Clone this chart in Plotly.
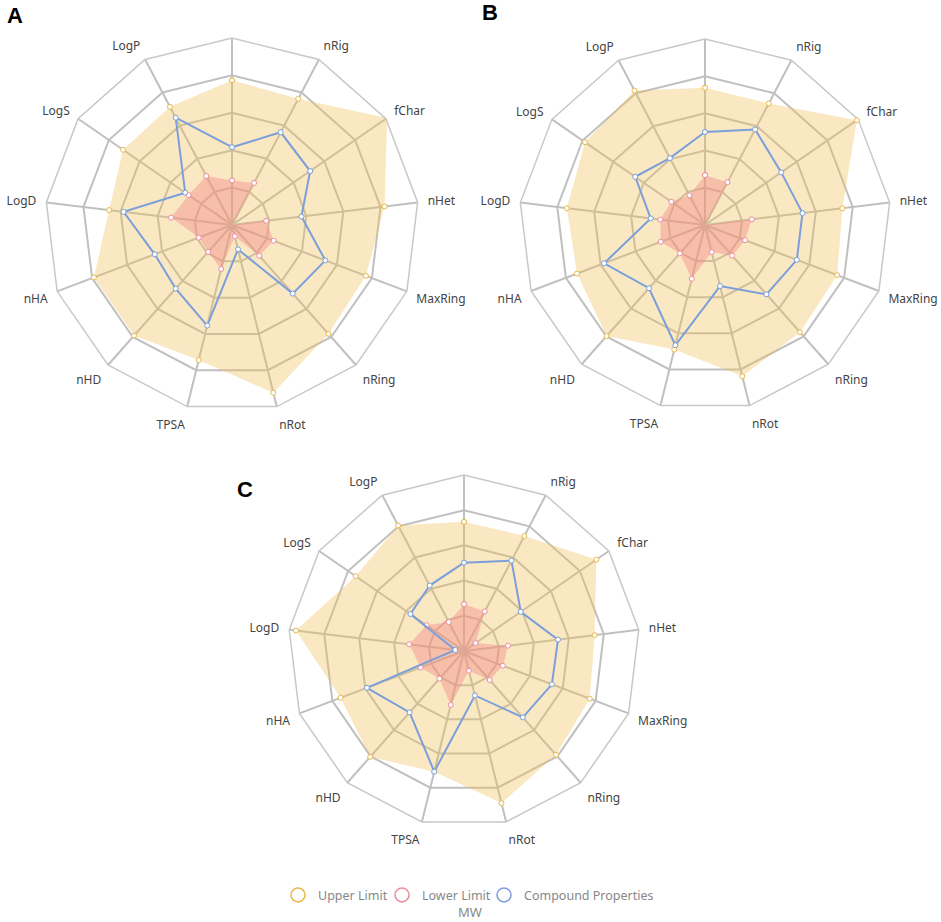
import plotly.graph_objects as go

# radar axes, clockwise from the top
props = ["MW", "nRig", "fChar", "nHet", "MaxRing", "nRing", "nRot",
         "TPSA", "nHD", "nHA", "LogD", "LogS", "LogP"]

# values (grid units 0-5)
upper_a = [3.87, 3.81, 5.04, 4.11, 3.83, 3.89, 4.62, 3.72, 3.95, 3.95, 3.31, 3.54, 3.57]
lower_a = [1.19, 1.27, 0.0, 0.92, 1.19, 1.10, 0.31, 1.21, 0.96, 0.95, 1.64, 1.41, 1.48]
comp_a = [2.08, 2.80, 2.54, 1.87, 2.67, 2.45, 0.67, 2.77, 2.27, 2.21, 2.92, 1.52, 3.24]

upper_b = [3.69, 3.69, 4.96, 3.72, 3.80, 3.85, 4.19, 3.45, 3.99, 3.68, 3.74, 3.92, 4.08]
lower_b = [1.34, 1.30, 0.0, 1.27, 1.15, 1.10, 0.75, 1.49, 1.02, 1.27, 1.21, 1.10, 0.90]
comp_b = [2.50, 2.90, 2.49, 2.64, 2.64, 2.49, 1.69, 3.33, 2.27, 2.90, 1.47, 2.28, 2.03]

upper_c = [3.67, 3.69, 4.57, 3.74, 3.82, 3.94, 4.45, 3.53, 4.02, 3.75, 4.81, 3.74, 4.03]
lower_c = [1.33, 1.27, 0.40, 1.26, 1.18, 1.10, 0.58, 1.58, 1.05, 1.32, 1.57, 1.29, 0.93]
comp_c = [2.51, 2.90, 1.96, 2.69, 2.67, 2.52, 1.30, 3.53, 2.33, 2.95, 0.25, 1.85, 2.10]

panels = [
    ("polar", upper_a, lower_a, comp_a),
    ("polar2", upper_b, lower_b, comp_b),
    ("polar3", upper_c, lower_c, comp_c),
]

ORANGE = "#E8B84A"
PINK = "#EE8AA0"
BLUE = "#7B9FDB"

fig = go.Figure()


def closed(v):
    return v + v[:1]


theta = closed(props)

for sub, up, lo, cp in panels:
    fig.add_trace(go.Scatterpolar(
        r=closed(up), theta=theta, subplot=sub, mode="lines+markers",
        fill="toself", fillcolor="rgba(240,190,80,0.35)",
        line=dict(width=0, color=ORANGE),
        marker=dict(size=5, color="white", line=dict(color=ORANGE, width=1)),
        showlegend=False, hoverinfo="skip"))
    fig.add_trace(go.Scatterpolar(
        r=closed(lo), theta=theta, subplot=sub, mode="lines+markers",
        fill="toself", fillcolor="rgba(242,130,135,0.42)",
        line=dict(width=0, color=PINK),
        marker=dict(size=5, color="white", line=dict(color=PINK, width=1)),
        showlegend=False, hoverinfo="skip"))
    fig.add_trace(go.Scatterpolar(
        r=closed(cp), theta=theta, subplot=sub, mode="lines+markers",
        line=dict(width=2, color=BLUE),
        marker=dict(size=5, color="white", line=dict(color=BLUE, width=1)),
        showlegend=False, hoverinfo="skip"))

# legend-only entries (open circles), one small legend each so the spacing is tight
legend_items = [("Upper Limit", ORANGE, "legend", 298),
                ("Lower Limit", PINK, "legend2", 402),
                ("Compound Properties", BLUE, "legend3", 504)]
for name, col, lg, _ in legend_items:
    fig.add_trace(go.Scatterpolar(
        r=[None], theta=[props[0]], subplot="polar3", mode="markers", name=name,
        legend=lg, showlegend=True,
        marker=dict(symbol="circle-open", size=14, color=col, line=dict(width=1.5))))

GRID = "#c0c0c0"
polar_style = dict(
    bgcolor="rgba(0,0,0,0)",
    gridshape="linear",
    radialaxis=dict(range=[0, 5], dtick=1, showticklabels=False, ticks="",
                    showline=False, gridcolor=GRID, gridwidth=1.5,
                    layer="below traces"),
    angularaxis=dict(direction="clockwise", rotation=90, categoryorder="array",
                     categoryarray=props, tickmode="array", tickvals=props,
                     ticktext=[""] + props[1:], ticks="outside", ticklen=7,
                     tickcolor="rgba(0,0,0,0)", showline=True,
                     linecolor="#c8c8c8", linewidth=1.5, gridcolor=GRID, gridwidth=1.5,
                     tickfont=dict(size=12, color="#444"), layer="below traces"),
)


def dom(cx, cy, r):
    return dict(x=[(cx - r) / 941, (cx + r) / 941],
                y=[1 - (cy + r) / 922, 1 - (cy - r) / 922])


legend_style = dict(orientation="h", xanchor="left", y=0.029, yanchor="middle",
                    font=dict(size=12.5, color="#888"), itemwidth=30,
                    bgcolor="rgba(0,0,0,0)")

fig.update_layout(
    width=941, height=922,
    margin=dict(l=0, r=0, t=0, b=0),
    paper_bgcolor="white",
    font=dict(family="Noto Sans, Open Sans, sans-serif", color="#444"),
    polar=dict(domain=dom(232, 225, 187), **polar_style),
    polar2=dict(domain=dom(705, 225, 186), **polar_style),
    polar3=dict(domain=dom(464, 651, 176), **polar_style),
    showlegend=True,
)
for name, col, lg, cx in legend_items:
    fig.update_layout({lg: dict(x=(cx - 20) / 941, **legend_style)})

for txt, x, y in [("A", 5, 15), ("B", 480, 13), ("C", 235, 489)]:
    fig.add_annotation(text=f"<b>{txt}</b>", x=x / 941, y=1 - y / 922,
                       xref="paper", yref="paper", xanchor="left", yanchor="middle",
                       showarrow=False,
                       font=dict(family="Liberation Sans, Arial", size=22, color="black"))

fig.add_annotation(text="MW", x=470 / 941, y=1 - 912 / 922, xref="paper", yref="paper",
                   showarrow=False, xanchor="center", yanchor="middle",
                   font=dict(size=13, color="#888"))

# drop the browser's default body margin so the figure sits at the page corner
fig.write_html("out.html", config={"displayModeBar": False},
               post_script="document.body.style.margin='0';")
